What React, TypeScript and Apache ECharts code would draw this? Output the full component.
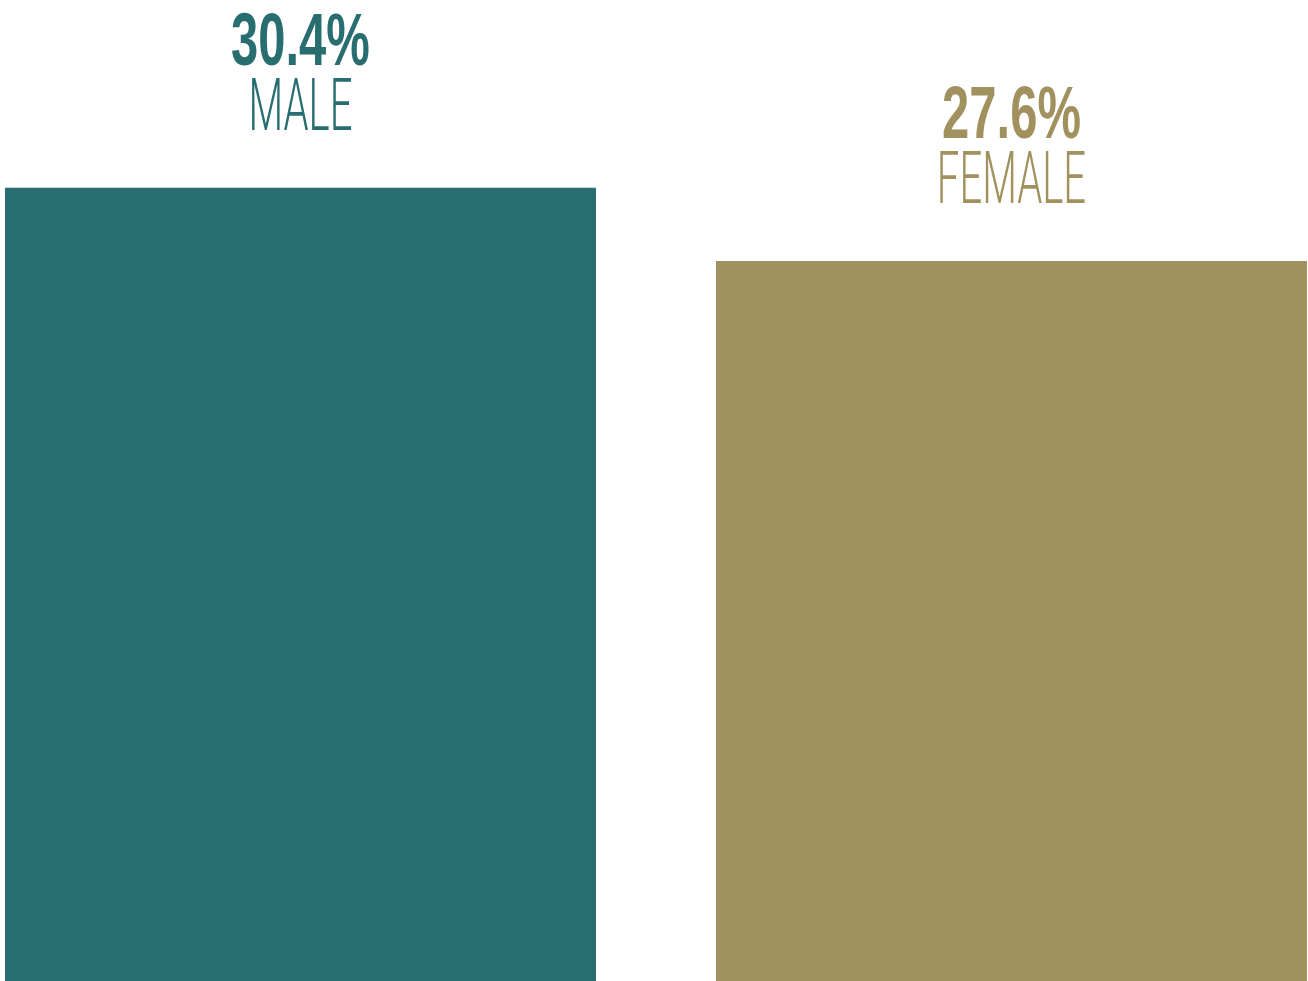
import React, { useEffect, useRef } from "react";
import * as echarts from "echarts";

const categories: string[] = ["MALE", "FEMALE"];
const values: number[] = [30.4, 27.6];
const colors: string[] = ["#286d70", "#a0915e"];

const VALUE_FONT = 'bold 74px "Liberation Sans Narrow", "Liberation Sans", Arial, sans-serif';
const CAT_FONT = '300 73px Roboto, "Liberation Sans", sans-serif';

function measure(font: string, text: string): number {
  const c = document.createElement("canvas");
  const ctx = c.getContext("2d");
  if (!ctx) return 1;
  ctx.font = font;
  return ctx.measureText(text).width || 1;
}

export default function App() {
  const ref = useRef<HTMLDivElement>(null);
  useEffect(() => {
    if (!ref.current) return;
    const chart = echarts.init(ref.current, undefined, { renderer: "svg" });
    const valueScale = 139 / measure(VALUE_FONT, "30.4%");
    const catScale = 104 / measure(CAT_FONT, "MALE");
    const points = values.map((v, i) => [i, v]);

    chart.setOption({
      animation: false,
      grid: { left: 0, right: 0, top: 0, bottom: 0, containLabel: false },
      xAxis: {
        type: "value",
        min: -0.4226,
        max: 1.417,
        show: false,
      },
      yAxis: { type: "value", min: 0, max: 37.6, show: false },
      series: [
        {
          type: "bar",
          barWidth: 591,
          data: points.map((p, i) => ({ value: p, itemStyle: { color: colors[i] } })),
          silent: true,
        },
        {
          type: "custom",
          data: points,
          encode: { x: 0, y: 1 },
          silent: true,
          renderItem: (params: any, api: any) => {
            const i = params.dataIndex;
            const p = api.coord([api.value(0), api.value(1)]);
            return {
              type: "group",
              children: [
                {
                  type: "text",
                  x: p[0],
                  y: p[1] - 149,
                  scaleX: valueScale,
                  style: {
                    text: values[i].toFixed(1) + "%",
                    font: VALUE_FONT,
                    fill: colors[i],
                    align: "center",
                    verticalAlign: "middle",
                  },
                },
                {
                  type: "text",
                  x: p[0],
                  y: p[1] - 83.5,
                  scaleX: catScale,
                  style: {
                    text: categories[i],
                    font: CAT_FONT,
                    fill: colors[i],
                    align: "center",
                    verticalAlign: "middle",
                  },
                },
              ],
            };
          },
        },
      ],
    });
    return () => chart.dispose();
  }, []);
  return (
    <div
      ref={ref}
      style={{ position: "absolute", left: 0, top: 0, width: 1308, height: 981, background: "#ffffff" }}
    />
  );
}
